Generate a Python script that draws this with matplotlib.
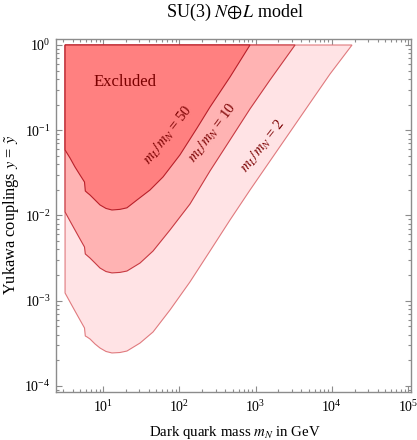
import matplotlib
matplotlib.use("Agg")
import matplotlib.pyplot as plt
from matplotlib.ticker import LogLocator, LogFormatterMathtext, NullFormatter

plt.rcParams['font.family'] = ['Liberation Serif', 'DejaVu Serif']
plt.rcParams['mathtext.fontset'] = 'stix'

# ---- data (dark quark mass m_N in GeV, coupling y) ----
mN_50 = [3.18, 3.69, 4.29, 4.99, 5.72, 5.86, 6.17, 6.75, 7.86, 9.13, 10.95, 13.1,
         16.7, 20.6, 27.9, 41.3, 61.2, 102, 171, 253, 463, 847]
y_50 = [0.0587, 0.0473, 0.0371, 0.0299, 0.0247, 0.0194, 0.0186, 0.0174, 0.0152,
        0.0133, 0.0121, 0.0116, 0.0118, 0.0123, 0.0152, 0.0199, 0.0283, 0.0513,
        0.106, 0.187, 0.421, 1.0]

mN_10 = [3.18, 3.69, 4.29, 4.99, 5.72, 5.86, 6.17, 6.75, 7.86, 9.13, 10.95, 13.1,
         16.7, 20.6, 30.6, 45.3, 75.6, 138, 253, 463, 847, 1550, 3300]
y_10 = [0.0110, 0.00862, 0.00676, 0.00530, 0.00427, 0.00354, 0.00340, 0.00317,
        0.00277, 0.00242, 0.00220, 0.00212, 0.00215, 0.00223, 0.00277, 0.00383,
        0.00676, 0.0136, 0.0333, 0.0769, 0.178, 0.389, 1.0]

mN_2 = [3.18, 3.69, 4.29, 4.99, 5.72, 5.86, 6.17, 6.75, 7.86, 9.13, 10.95, 13.1,
        16.7, 20.6, 30.6, 45.3, 75.6, 138, 253, 463, 847, 1550, 2835, 5185, 9485,
        18430]
y_2 = [0.001233, 0.000967, 0.000758, 0.000595, 0.000479, 0.000386, 0.000376,
       0.000356, 0.000311, 0.000279, 0.000254, 0.000244, 0.000247, 0.000257,
       0.000319, 0.000430, 0.000779, 0.00166, 0.00383, 0.00886, 0.0199, 0.0436,
       0.0954, 0.209, 0.457, 1.0]

y_top = 1.0
labels = [r"$m_L/m_N$ = 50", r"$m_L/m_N$ = 10", r"$m_L/m_N$ = 2"]
label_pos = [(71, 0.088), (277, 0.093), (1253, 0.0654)]
label_rot = [52, 53, 52]

W, H = 417, 440
fig = plt.figure(figsize=(W / 100, H / 100), dpi=100)
ax = fig.add_axes([56 / W, 1 - 392 / H, 355 / W, 353 / H])
ax.set_xscale('log')
ax.set_yscale('log')
ax.set_xlim(2.419, 1.094e5)
ax.set_ylim(8.50e-5, 1.176)

bands = [
    (mN_2, y_2, '#FFE3E5', '#E07A7E'),
    (mN_10, y_10, '#FFB3B3', '#C83A42'),
    (mN_50, y_50, '#FF8080', '#B8202A'),
]
for xs, ys, fc, ec in bands:
    px = [xs[0]] + list(xs)
    py = [y_top] + list(ys)
    ax.fill(px, py, facecolor=fc, edgecolor=ec, linewidth=0.8, zorder=2)

ax.text(19.5, 0.368, "Excluded", color='#7A0000', fontsize=12, ha='center',
        va='center', zorder=5)
for lab, (lx, ly), rot in zip(labels, label_pos, label_rot):
    ax.text(lx, ly, lab, color='#7A0000', fontsize=10.5, rotation=rot,
            ha='center', va='center', rotation_mode='anchor', zorder=5)

frame_c = '#8C8C8C'
for s in ax.spines.values():
    s.set_color(frame_c)
    s.set_linewidth(1.0)

ax.xaxis.set_major_locator(LogLocator(base=10, numticks=20))
ax.xaxis.set_minor_locator(LogLocator(base=10, subs=range(2, 10), numticks=100))
ax.yaxis.set_major_locator(LogLocator(base=10, numticks=20))
ax.yaxis.set_minor_locator(LogLocator(base=10, subs=range(2, 10), numticks=100))
ax.xaxis.set_major_formatter(LogFormatterMathtext())
ax.yaxis.set_major_formatter(LogFormatterMathtext())
ax.xaxis.set_minor_formatter(NullFormatter())
ax.yaxis.set_minor_formatter(NullFormatter())
ax.tick_params(which='both', direction='in', top=True, right=True,
               color=frame_c, labelsize=10, width=0.8)
ax.tick_params(which='major', length=4.5)
ax.tick_params(which='minor', length=2.5)
ax.tick_params(axis='x', pad=5)
ax.tick_params(axis='y', pad=4)

fig.text(235 / W, 1 - 12 / H, r"SU(3) $N\!\oplus\! L$ model", fontsize=13,
         ha='center', va='center')
fig.text(235 / W, 1 - 432 / H, r"Dark quark mass $m_N$ in GeV", fontsize=10.7,
         ha='center', va='center')
fig.text(11 / W, 1 - 215 / H, r"Yukawa couplings $y$ = $\tilde{y}$", fontsize=11.8,
         ha='center', va='center', rotation=90)

fig.savefig("out.png", dpi=100)
